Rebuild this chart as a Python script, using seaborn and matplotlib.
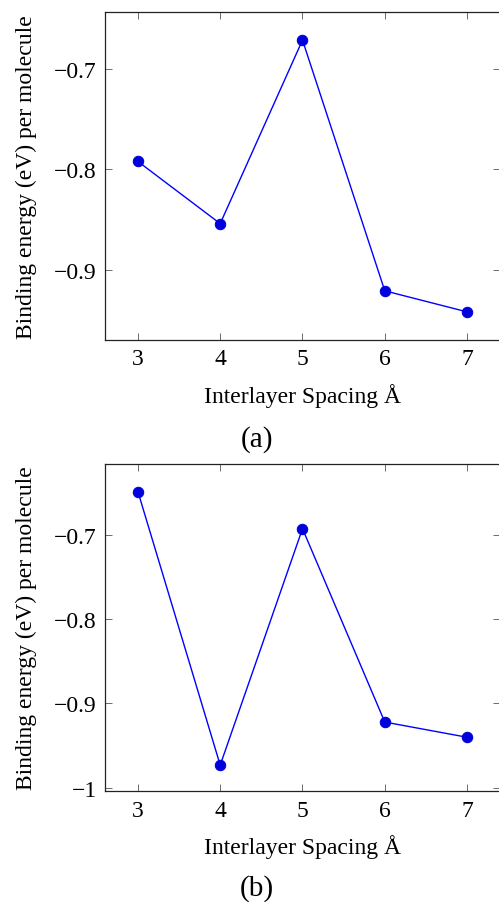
import matplotlib
matplotlib.use("Agg")
import matplotlib.pyplot as plt
import pandas as pd
import seaborn as sns

# interlayer spacing (Angstrom) and binding energies
spacing = [3, 4, 5, 6, 7]
energy_a = [-0.792, -0.854, -0.671, -0.921, -0.942]
energy_b = [-0.649, -0.973, -0.693, -0.922, -0.940]
yticks_a = [-0.9, -0.8, -0.7]
yticks_b = [-1.0, -0.9, -0.8, -0.7]
ytick_labels_a = ["\u22120.9", "\u22120.8", "\u22120.7"]
ytick_labels_b = ["\u22121", "\u22120.9", "\u22120.8", "\u22120.7"]

sns.set_theme(style="ticks")
plt.rcParams["font.family"] = ["Liberation Serif", "DejaVu Serif"]
plt.rcParams["text.color"] = "black"
plt.rcParams["axes.labelcolor"] = "black"
plt.rcParams["xtick.labelcolor"] = "black"
plt.rcParams["ytick.labelcolor"] = "black"

fig = plt.figure(figsize=(4.99, 9.03), dpi=100)
ax_a = fig.add_axes([0.2104, 0.6224, 0.7916, 0.3632])
ax_b = fig.add_axes([0.2104, 0.1226, 0.7916, 0.3628])

panels = [
    (ax_a, energy_a, yticks_a, ytick_labels_a, (-0.970, -0.643)),
    (ax_b, energy_b, yticks_b, ytick_labels_b, (-1.004, -0.616)),
]

for ax, energy, yt, ytl, ylim in panels:
    df = pd.DataFrame({"x": spacing, "y": energy})
    sns.lineplot(data=df, x="x", y="y", ax=ax, color="#0000ff", lw=1.0,
                 marker="o", markersize=7.5, markeredgecolor="#0000dd",
                 markerfacecolor="#0000dd")
    ax.set_xlim(2.6, 7.4)
    ax.set_ylim(*ylim)
    ax.set_xticks(spacing)
    ax.set_xticklabels([str(s) for s in spacing])
    ax.set_yticks(yt)
    ax.set_yticklabels(ytl)
    ax.tick_params(direction="in", length=5, width=0.6, color="#555555",
                   top=True, right=True, labelsize=17, pad=6)
    for sp in ax.spines.values():
        sp.set_linewidth(0.9)
        sp.set_color("#222222")
    ax.set_xlabel("Interlayer Spacing \u00c5", fontsize=17, labelpad=10)
    ax.set_ylabel("Binding energy (eV) per molecule", fontsize=17, labelpad=12)

fig.text(257 / 499, 1 - 440 / 903, "(a)", ha="center", va="center", fontsize=21)
fig.text(257 / 499, 1 - 889 / 903, "(b)", ha="center", va="center", fontsize=21)

fig.savefig("out.png", dpi=100)
